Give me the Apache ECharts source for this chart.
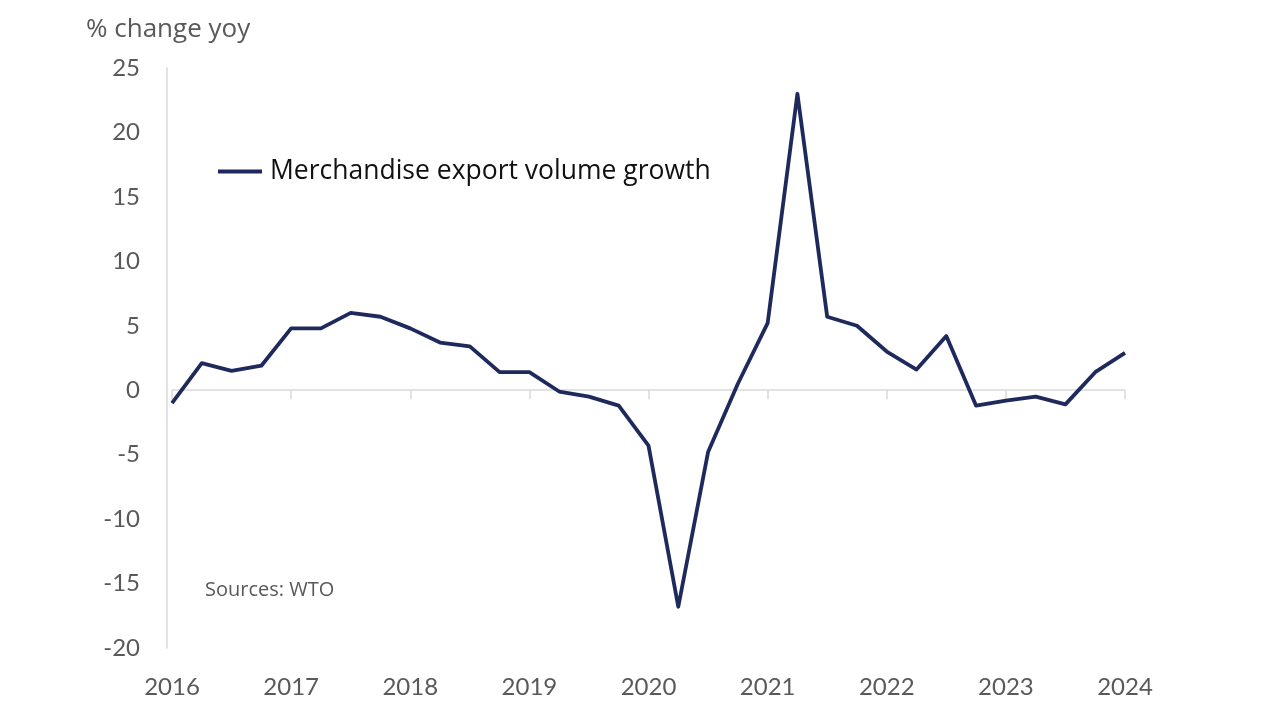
<!DOCTYPE html>
<html>
<head>
<meta charset="utf-8">
<script src="https://cdn.jsdelivr.net/npm/echarts@6/dist/echarts.min.js"></script>
<style>
html,body{margin:0;padding:0;background:#fff;}
#c{width:1280px;height:720px;}
</style>
</head>
<body>
<div id="c"></div>
<script>
var quarters = [
  '2016Q1','2016Q2','2016Q3','2016Q4',
  '2017Q1','2017Q2','2017Q3','2017Q4',
  '2018Q1','2018Q2','2018Q3','2018Q4',
  '2019Q1','2019Q2','2019Q3','2019Q4',
  '2020Q1','2020Q2','2020Q3','2020Q4',
  '2021Q1','2021Q2','2021Q3','2021Q4',
  '2022Q1','2022Q2','2022Q3','2022Q4',
  '2023Q1','2023Q2','2023Q3','2023Q4',
  '2024Q1'
];
var exportGrowth = [
  -1.0, 2.1, 1.5, 1.9,
  4.8, 4.8, 6.0, 5.7,
  4.8, 3.7, 3.4, 1.4,
  1.4, -0.1, -0.5, -1.2,
  -4.3, -16.8, -4.8, 0.5,
  5.2, 23.0, 5.7, 5.0,
  3.0, 1.6, 4.2, -1.2,
  -0.8, -0.5, -1.1, 1.4,
  2.9
];
var seriesName = 'Merchandise export volume growth';
var yAxisTitle = '% change yoy';
var sourceNote = 'Sources: WTO';

var FONT = 'Lato, "Open Sans", sans-serif';
var FONT2 = '"Open Sans", Lato, sans-serif';
var chart = echarts.init(document.getElementById('c'), null, {renderer: 'canvas'});
chart.setOption({
  animation: false,
  backgroundColor: '#ffffff',
  grid: {left: 172, right: 155, top: 68, bottom: 72, containLabel: false},
  legend: {
    data: [seriesName],
    left: 218, top: 158,
    padding: 0,
    icon: 'rect',
    itemWidth: 44, itemHeight: 4,
    textStyle: {fontFamily: FONT2, fontSize: 26.5, color: '#111111', padding: [0, 0, 0, 3]}
  },
  graphic: [
    {type: 'text', left: 86, top: 17, style: {text: yAxisTitle, font: '26px ' + FONT2, fill: '#595959'}},
    {type: 'text', left: 205, top: 580, style: {text: sourceNote, font: '20px ' + FONT2, fill: '#595959'}}
  ],
  xAxis: [
    {
      type: 'category', data: quarters, boundaryGap: false, position: 'bottom',
      axisLine: {show: false, onZero: false},
      axisTick: {show: false},
      axisLabel: {
        interval: 3, margin: 27, fontFamily: FONT, fontSize: 24, color: '#595959',
        formatter: function (v) { return v.slice(0, 4); }
      },
      splitLine: {show: false}
    },
    {
      type: 'category', data: quarters, boundaryGap: false, position: 'bottom',
      axisLine: {show: true, onZero: true, lineStyle: {color: '#d9d9d9', width: 1.5}},
      axisTick: {show: true, interval: 3, length: 9, lineStyle: {color: '#d9d9d9', width: 1.5}},
      axisLabel: {show: false},
      splitLine: {show: false}
    }
  ],
  yAxis: {
    type: 'value', min: -20, max: 25, interval: 5, offset: 5,
    axisLine: {show: true, onZero: false, lineStyle: {color: '#d9d9d9', width: 1.5}},
    axisTick: {show: false},
    splitLine: {show: false},
    axisLabel: {margin: 27, fontFamily: FONT, fontSize: 24, color: '#595959'}
  },
  series: [{
    name: seriesName,
    type: 'line',
    xAxisIndex: 0,
    data: exportGrowth,
    showSymbol: false,
    symbol: 'none',
    lineStyle: {color: '#1f2a5c', width: 3.8, join: 'round'},
    itemStyle: {color: '#1f2a5c'}
  }]
});
</script>
</body>
</html>
